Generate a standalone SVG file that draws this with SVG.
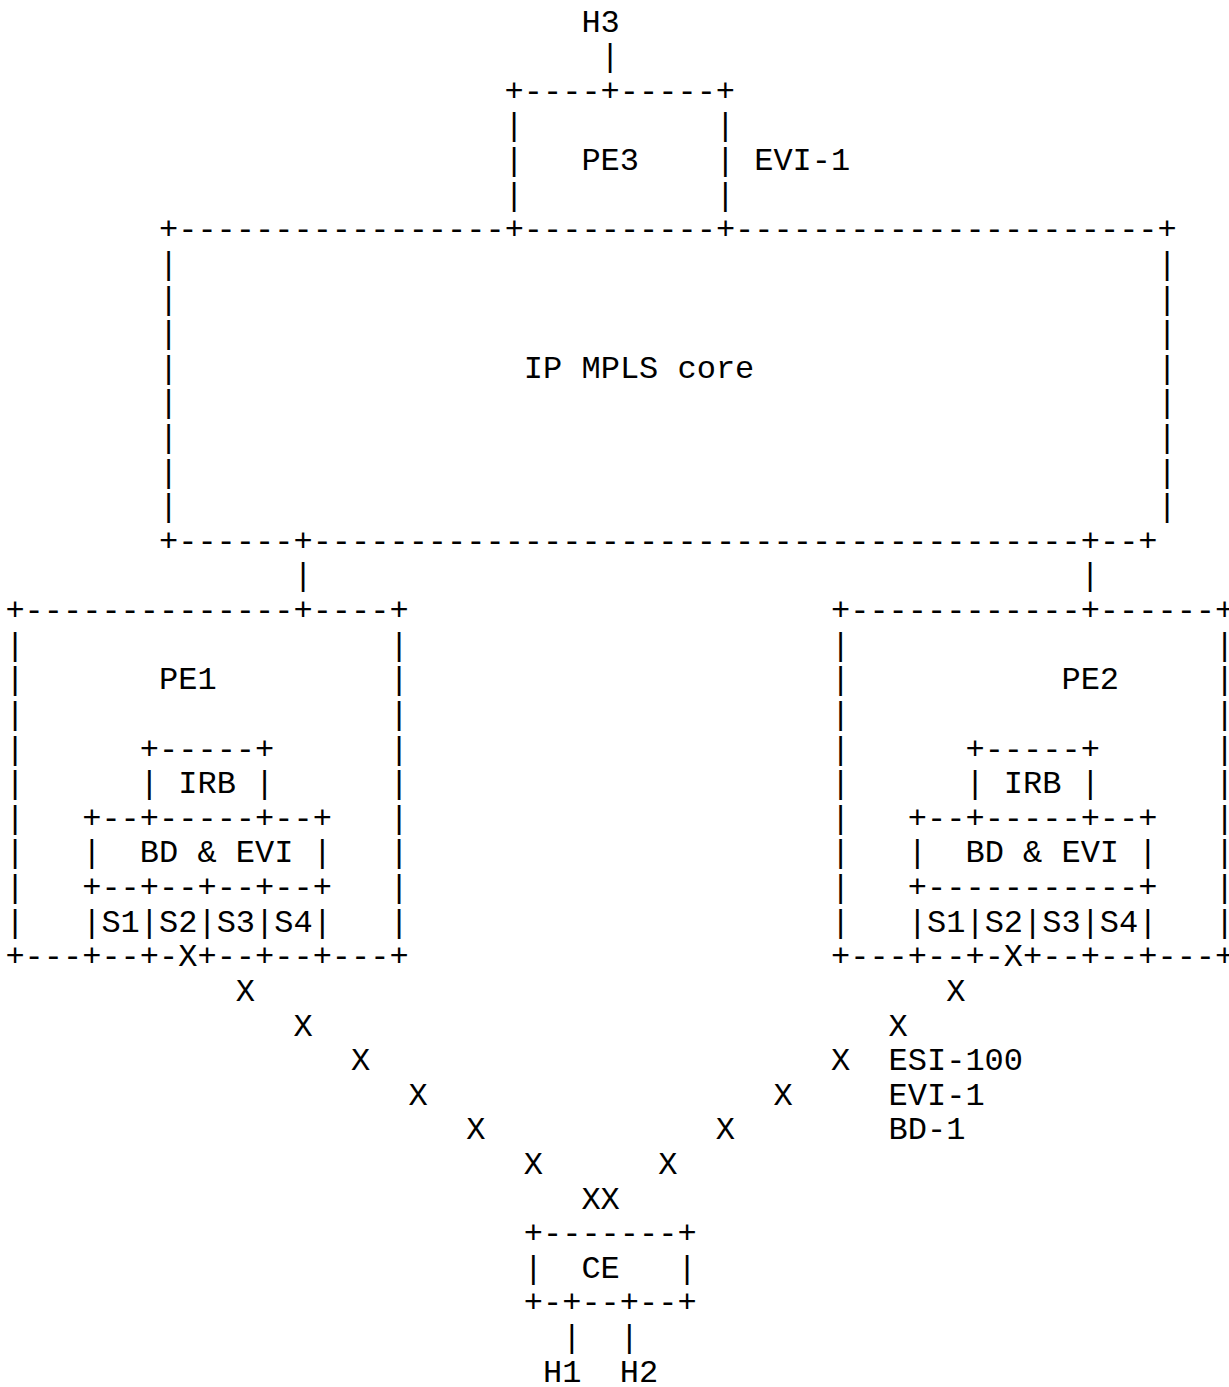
<svg xmlns="http://www.w3.org/2000/svg" width="1229" height="1387" viewBox="0 0 1229 1387">
<style>
text { font-family: "Liberation Mono", "Courier New", monospace; font-size: 32px; fill: #000; white-space: pre; }
</style>
<rect x="0" y="0" width="1229" height="1387" fill="#fff"/>
<g id="connectors">
<text x="600.6" y="66.1">|</text>
<text x="293.4" y="585.4">|</text>
<text x="1080.6" y="585.4">|</text>
<text x="235.8" y="1000.9">X</text>
<text x="293.4" y="1035.5">X</text>
<text x="351.0" y="1070.1">X</text>
<text x="408.6" y="1104.7">X</text>
<text x="466.2" y="1139.3">X</text>
<text x="523.8" y="1174.0">X</text>
<text x="946.2" y="1000.9">X</text>
<text x="888.6" y="1035.5">X</text>
<text x="831.0" y="1070.1">X</text>
<text x="773.4" y="1104.7">X</text>
<text x="715.8" y="1139.3">X</text>
<text x="658.2" y="1174.0">X</text>
<text x="581.4" y="1208.6">XX</text>
<text x="562.2" y="1347.1">|</text>
<text x="619.8" y="1347.1">|</text>
</g>
<g id="H3">
<text x="581.4" y="31.5">H3</text>
</g>
<g id="PE3">
<text x="504.6" y="100.7" xml:space="preserve">+----+-----+</text>
<text x="504.6" y="135.4" xml:space="preserve">|          |</text>
<text x="504.6" y="170.0" xml:space="preserve">|   PE3    |</text>
<text x="504.6" y="204.6" xml:space="preserve">|          |</text>
<text x="754.2" y="170.0">EVI-1</text>
</g>
<g id="core">
<text x="159.0" y="239.2" xml:space="preserve">+-----------------+----------+----------------------+</text>
<text x="159.0" y="273.8" xml:space="preserve">|                                                   |</text>
<text x="159.0" y="308.5" xml:space="preserve">|                                                   |</text>
<text x="159.0" y="343.1" xml:space="preserve">|                                                   |</text>
<text x="159.0" y="377.7" xml:space="preserve">|                  IP MPLS core                     |</text>
<text x="159.0" y="412.3" xml:space="preserve">|                                                   |</text>
<text x="159.0" y="446.9" xml:space="preserve">|                                                   |</text>
<text x="159.0" y="481.6" xml:space="preserve">|                                                   |</text>
<text x="159.0" y="516.2" xml:space="preserve">|                                                   |</text>
<text x="159.0" y="550.8" xml:space="preserve">+------+----------------------------------------+--+</text>
</g>
<g id="PE1">
<text x="5.4" y="620.0" xml:space="preserve">+--------------+----+</text>
<text x="5.4" y="654.7" xml:space="preserve">|                   |</text>
<text x="5.4" y="689.3" xml:space="preserve">|       PE1         |</text>
<text x="5.4" y="723.9" xml:space="preserve">|                   |</text>
<text x="5.4" y="758.5" xml:space="preserve">|      +-----+      |</text>
<text x="5.4" y="793.1" xml:space="preserve">|      | IRB |      |</text>
<text x="5.4" y="827.8" xml:space="preserve">|   +--+-----+--+   |</text>
<text x="5.4" y="862.4" xml:space="preserve">|   |  BD &amp; EVI |   |</text>
<text x="5.4" y="897.0" xml:space="preserve">|   +--+--+--+--+   |</text>
<text x="5.4" y="931.6" xml:space="preserve">|   |S1|S2|S3|S4|   |</text>
<text x="5.4" y="966.2" xml:space="preserve">+---+--+-X+--+--+---+</text>
</g>
<g id="PE2">
<text x="831.0" y="620.0" xml:space="preserve">+------------+------+</text>
<text x="831.0" y="654.7" xml:space="preserve">|                   |</text>
<text x="831.0" y="689.3" xml:space="preserve">|           PE2     |</text>
<text x="831.0" y="723.9" xml:space="preserve">|                   |</text>
<text x="831.0" y="758.5" xml:space="preserve">|      +-----+      |</text>
<text x="831.0" y="793.1" xml:space="preserve">|      | IRB |      |</text>
<text x="831.0" y="827.8" xml:space="preserve">|   +--+-----+--+   |</text>
<text x="831.0" y="862.4" xml:space="preserve">|   |  BD &amp; EVI |   |</text>
<text x="831.0" y="897.0" xml:space="preserve">|   +-----------+   |</text>
<text x="831.0" y="931.6" xml:space="preserve">|   |S1|S2|S3|S4|   |</text>
<text x="831.0" y="966.2" xml:space="preserve">+---+--+-X+--+--+---+</text>
</g>
<g id="esi-label">
<text x="888.6" y="1070.1">ESI-100</text>
<text x="888.6" y="1104.7">EVI-1</text>
<text x="888.6" y="1139.3">BD-1</text>
</g>
<g id="CE">
<text x="523.8" y="1243.2" xml:space="preserve">+-------+</text>
<text x="523.8" y="1277.8" xml:space="preserve">|  CE   |</text>
<text x="523.8" y="1312.4" xml:space="preserve">+-+--+--+</text>
</g>
<g id="H1">
<text x="543.0" y="1381.7">H1</text>
</g>
<g id="H2">
<text x="619.8" y="1381.7">H2</text>
</g>
</svg>
